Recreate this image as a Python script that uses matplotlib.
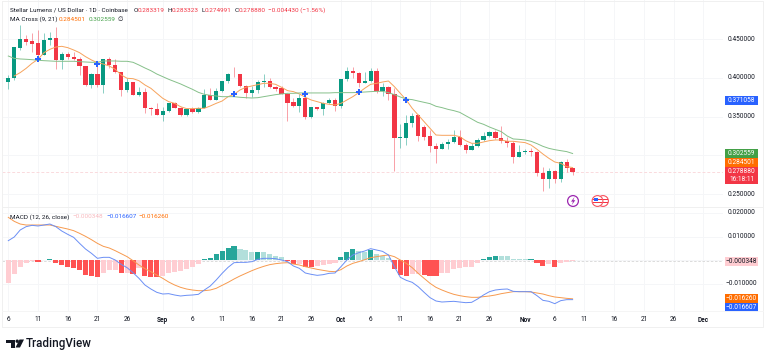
"""
Stellar Lumens daily chart with MA cross and MACD panes.
"""
import matplotlib
matplotlib.use('Agg')
import matplotlib.pyplot as plt
import matplotlib.dates as mdates
from matplotlib.patches import Circle, Polygon, Rectangle
import numpy as np
import pandas as pd

plt.rcParams['font.family'] = ['Roboto', 'DejaVu Sans']

dates = pd.date_range('2025-08-06', periods=96, freq='D')

opens = [.3952,.4003,.4390,.4497,.4471,.4446,.4295,.4489,.4519,.4231,.4308,.4269,.4244,.4149,.3904,.4046,
         .3904,.4244,.4166,.4076,.3840,.3947,.3784,.3823,.3612,.3595,.3526,.3574,.3677,.3617,.3518,.3599,
         .3561,.3617,.3775,.3720,.3831,.3956,.4050,.4046,.3896,.3801,.3844,.3952,.3960,.3883,.3866,.3797,
         .3685,.3642,.3741,.3501,.3621,.3604,.3672,.3715,.3642,.3986,.4085,.4063,.3934,.3960,.4085,.3836,
         .3887,.3793,.3230,.3230,.3415,.3518,.3372,.3251,.3123,.3084,.3144,.3178,.3243,.3135,.3075,.3118,
         .3196,.3251,.3303,.3221,.3187,.3161,.2981,.3050,.3054,.3045,.2779,.2697,.2805,.2697,.2916,.283319]
highs = [.4038,.4403,.4682,.4553,.4574,.4617,.4574,.4587,.4660,.4338,.4338,.4338,.4274,.4153,.4059,.4188,
         .4244,.4274,.4239,.4080,.3995,.3952,.3887,.3866,.3621,.3672,.3629,.3681,.3694,.3621,.3608,.3621,
         .3625,.3853,.3866,.3866,.3964,.4059,.4145,.4050,.3909,.3896,.3973,.4050,.3995,.3896,.3896,.3801,
         .3737,.3788,.3823,.3629,.3629,.3694,.3737,.3745,.3986,.4136,.4145,.4080,.4080,.4123,.4123,.3930,
         .3896,.3866,.3406,.3522,.3544,.3531,.3393,.3329,.3157,.3178,.3208,.3329,.3329,.3157,.3157,.3221,
         .3307,.3320,.3329,.3380,.3243,.3191,.3135,.3084,.3092,.3062,.2848,.2835,.2813,.2929,.2955,.283323]
lows = [.3853,.3973,.4360,.4424,.4330,.4231,.4295,.4424,.4111,.4115,.4239,.4231,.4038,.3900,.3874,.3879,
        .3810,.4123,.4059,.3771,.3823,.3780,.3771,.3544,.3522,.3522,.3449,.3565,.3612,.3509,.3509,.3544,
        .3552,.3608,.3715,.3715,.3814,.3930,.4007,.3879,.3737,.3750,.3810,.3887,.3874,.3836,.3788,.3449,
        .3621,.3565,.3475,.3479,.3586,.3522,.3660,.3578,.3617,.3960,.3995,.3879,.3930,.3952,.3801,.3771,
        .3715,.2805,.3092,.3135,.3363,.3191,.3200,.3050,.2899,.3080,.3080,.3166,.3127,.3028,.3071,.3110,
        .3183,.3243,.3208,.3157,.3114,.2899,.2977,.3019,.2994,.2736,.2538,.2581,.2650,.2663,.2792,.274991]
closes = [.4003,.4394,.4497,.4467,.4437,.4295,.4489,.4519,.4231,.4308,.4265,.4244,.4149,.3904,.4046,.3904,
          .4244,.4166,.4076,.3840,.3947,.3784,.3823,.3612,.3595,.3526,.3574,.3677,.3617,.3518,.3599,.3561,
          .3617,.3775,.3720,.3831,.3956,.4050,.4046,.3896,.3801,.3844,.3943,.3960,.3883,.3857,.3797,.3681,
          .3642,.3741,.3501,.3621,.3604,.3672,.3715,.3642,.3986,.4085,.4059,.3930,.3960,.4085,.3836,.3887,
          .3793,.3230,.3234,.3419,.3513,.3251,.3243,.3123,.3084,.3148,.3178,.3243,.3140,.3075,.3118,.3196,
          .3251,.3303,.3221,.3183,.3161,.2981,.3045,.3054,.3045,.2779,.2697,.2805,.2697,.2916,.2839,.278880]

ma9_days = dates[1:]
ma9 = [.4025,.4068,.4123,.4188,.4239,.4325,.4368,.4398,.4407,.4390,.4360,.4325,.4274,.4231,.4196,.4179,
       .4153,.4111,.4038,.3995,.3990,.3964,.3909,.3866,.3801,.3737,.3694,.3672,.3629,.3604,.3604,.3608,
       .3608,.3638,.3672,.3702,.3758,.3788,.3844,.3879,.3896,.3913,.3930,.3930,.3917,.3879,.3836,.3823,
       .3793,.3750,.3715,.3694,.3672,.3660,.3651,.3672,.3715,.3758,.3810,.3866,.3917,.3930,.3947,.3960,
       .3887,.3801,.3715,.3608,.3522,.3436,.3350,.3264,.3260,.3260,.3260,.3243,.3191,.3157,.3157,.3174,
       .3191,.3200,.3200,.3183,.3183,.3174,.3166,.3135,.3080,.3019,.2964,.2916,.2899,.2856,.284501]
ma21 = [.4282,.4252,.4244,.4240,.4235,.4227,.4222,.4218,.4214,.4214,.4214,.4214,.4209,.4205,.4201,.4201,
        .4218,.4218,.4218,.4214,.4214,.4201,.4166,.4128,.4093,.4050,.4016,.3982,.3952,.3922,.3887,.3853,
        .3814,.3788,.3775,.3767,.3758,.3758,.3758,.3750,.3745,.3741,.3745,.3758,.3771,.3784,.3793,.3801,
        .3801,.3806,.3806,.3806,.3806,.3806,.3806,.3810,.3810,.3810,.3810,.3814,.3818,.3823,.3827,.3827,
        .3810,.3784,.3754,.3728,.3720,.3702,.3685,.3668,.3634,.3617,.3595,.3578,.3556,.3513,.3471,.3428,
        .3402,.3367,.3337,.3307,.3251,.3213,.3208,.3200,.3183,.3153,.3118,.3092,.3075,.3062,.3050,.302559]

cross_days = pd.to_datetime(['2025-08-11', '2025-08-21', '2025-09-13',
                             '2025-09-25', '2025-10-04', '2025-10-12'])
cross_vals = [.4239, .4179, .3788, .3788, .3814, .3715]

macd_hist = [-.00944,-.00592,-.00296,-.00113,-.00028,-.00070,.00028,.00070,-.00113,-.00197,-.00268,-.00324,
             -.00408,-.00634,-.00648,-.00718,-.00521,-.00423,-.00408,-.00535,-.00521,-.00577,-.00338,-.00662,
             -.00690,-.00718,-.00662,-.00549,-.00479,-.00437,-.00366,-.00268,-.00169,.00042,.00113,.00254,
             .00394,.00535,.00620,.00493,.00423,.00338,.00366,.00338,.00254,.00197,.00127,-.00028,
             -.00155,-.00141,-.00282,-.00296,-.00239,-.00197,-.00141,-.00113,.00141,.00352,.00465,.00394,
             .00366,.00437,.00268,.00183,.00085,-.00352,-.00620,-.00648,-.00563,-.00563,-.00606,-.00662,
             -.00676,-.00535,-.00521,-.00380,-.00338,-.00296,-.00268,-.00113,.00042,.00155,.00183,.00169,
             .00169,.00056,.00056,.00056,.00070,-.00099,-.00225,-.00141,-.00282,-.00113,-.00056,-.000348]
macd_line = [.00831,.00986,.01282,.01423,.01479,.01451,.01493,.01535,.01423,.01239,.01099,.00972,
             .00718,.00479,.00296,.00085,.00127,.00127,.00014,-.00169,-.00310,-.00521,-.00761,-.01042,
             -.01211,-.01352,-.01423,-.01408,-.01465,-.01507,-.01479,-.01465,-.01437,-.01254,-.01085,-.00831,
             -.00549,-.00296,-.00099,-.00085,-.00085,-.00056,.00042,.00085,.00085,.00070,.00014,-.00056,
             -.00239,-.00338,-.00535,-.00592,-.00634,-.00606,-.00549,-.00535,-.00268,.00014,.00225,.00324,
             .00394,.00493,.00437,.00380,.00225,-.00268,-.00718,-.00845,-.00930,-.01113,-.01352,-.01577,
             -.01718,-.01761,-.01746,-.01732,-.01761,-.01789,-.01775,-.01634,-.01465,-.01324,-.01254,-.01225,
             -.01211,-.01310,-.01324,-.01324,-.01324,-.01493,-.01690,-.01732,-.01831,-.01704,-.01662,-.016607]
signal_line = [.01817,.01648,.01535,.01493,.01493,.01493,.01493,.01493,.01437,.01380,.01324,.01254,
               .01141,.01014,.00873,.00718,.00592,.00521,.00408,.00282,.00155,-.00014,-.00197,-.00352,
               -.00479,-.00620,-.00761,-.00916,-.01042,-.01141,-.01211,-.01254,-.01282,-.01282,-.01254,-.01183,
               -.01056,-.00930,-.00789,-.00662,-.00549,-.00437,-.00338,-.00254,-.00183,-.00141,-.00113,-.00099,
               -.00155,-.00197,-.00268,-.00324,-.00380,-.00423,-.00465,-.00479,-.00394,-.00239,-.00127,-.00056,
               .00028,.00113,.00155,.00197,.00225,.00155,.00014,-.00127,-.00310,-.00549,-.00761,-.00972,
               -.01141,-.01254,-.01352,-.01437,-.01493,-.01535,-.01563,-.01563,-.01535,-.01507,-.01465,-.01408,
               -.01366,-.01324,-.01324,-.01324,-.01338,-.01380,-.01423,-.01493,-.01549,-.01577,-.01606,-.016260]

tick_dates = pd.to_datetime(['2025-08-06','2025-08-11','2025-08-16','2025-08-21','2025-08-26','2025-09-01',
                             '2025-09-06','2025-09-11','2025-09-16','2025-09-21','2025-09-26','2025-10-01',
                             '2025-10-06','2025-10-11','2025-10-16','2025-10-21','2025-10-26','2025-11-01',
                             '2025-11-06','2025-11-11','2025-11-16','2025-11-21','2025-11-26','2025-12-01'])
tick_labels = ['6','11','16','21','26','Sep','6','11','16','21','26','Oct',
               '6','11','16','21','26','Nov','6','11','16','21','26','Dec']
price_ticks = [0.25, 0.30, 0.35, 0.40, 0.45]
price_labels = ['0.250000', '', '0.350000', '0.400000', '0.450000']
macd_ticks = [-0.01, 0.0, 0.01, 0.02]
macd_labels = ['\u22120.010000', '', '0.010000', '0.020000']

W, H = 768, 359
UP, DOWN = '#089981', '#f23645'
GRID = '#f5f6f8'
BLUE, ORANGE, GREEN = '#2962ff', '#ff6d00', '#43a047'
FS = 4.7
LEG = 4.6


def pane(top, bottom):
    ax = fig.add_axes([2/W, 1 - bottom/H, 721/W, (bottom - top)/H])
    ax.set_xlim(x0 - 6.3/5.94, x0 + (723 - 8.3)/5.94)
    ax.set_xticks(mdates.date2num(tick_dates))
    ax.grid(color=GRID, linewidth=0.7)
    ax.set_axisbelow(True)
    ax.tick_params(length=0, labelbottom=False, labelleft=False)
    for s in ax.spines.values():
        s.set_visible(False)
    return ax


fig = plt.figure(figsize=(W/100, H/100), dpi=100)
x = mdates.date2num(dates)
x0 = x[0]

# price pane
ax = pane(0, 207)
ax.set_ylim(0.2336, 0.5004)
ax.set_yticks(price_ticks)
o, hi, lo, c = map(np.array, (opens, highs, lows, closes))
colors = np.where(c >= o, UP, DOWN)
ax.vlines(x, lo, hi, colors=colors, linewidth=0.6, alpha=0.55, zorder=2)
body = np.maximum(np.abs(c - o), 0.0006)
ax.bar(x, body, bottom=np.minimum(o, c), width=0.72, color=colors, linewidth=0, zorder=3)
ax.plot(mdates.date2num(ma9_days), ma9, color='#f7a35c', linewidth=0.7, zorder=4)
ax.plot(x, ma21, color='#86c08a', linewidth=0.7, zorder=4)
ax.plot(mdates.date2num(cross_days), cross_vals, linestyle='none', marker='P', markersize=4.4,
        color=BLUE, markeredgewidth=0, zorder=5)
ax.axhline(closes[-1], color='#fadadd', linewidth=0.7, linestyle=(0, (3, 2)), zorder=1)

# macd pane
ax2 = pane(207, 311)
ax2.set_ylim(-0.02141, 0.02254)
ax2.set_yticks(macd_ticks)
hist = np.array(macd_hist)
prev = np.r_[hist[0], hist[:-1]]
hist_colors = []
for v, p in zip(hist, prev):
    if v >= 0:
        hist_colors.append('#26a69a' if v > p else '#b2dfdb')
    else:
        hist_colors.append('#ff5252' if v < p else '#ffcdd2')
hist_colors[0] = '#ffcdd2'
ax2.bar(x, hist, width=0.86, color=hist_colors, linewidth=0, zorder=2)
ax2.plot(x, signal_line, color='#f79a4e', linewidth=0.7, zorder=3)
ax2.plot(x, macd_line, color='#6b8ff5', linewidth=0.7, zorder=4)
ax2.axhline(macd_hist[-1], color='#d6d6d6', linewidth=0.6, linestyle=(0, (3, 2)), zorder=1)

# everything around the panes is placed in pixels
ov = fig.add_axes([0, 0, 1, 1], facecolor='none')
ov.set_xlim(0, W)
ov.set_ylim(H, 0)
ov.axis('off')
ov.plot([2, 763, 763, 2, 2], [0.5, 0.5, 327, 327, 0.5], color='#f0f0f0', linewidth=0.7)
ov.plot([2, 763], [207, 207], color='#f0f0f0', linewidth=0.7)
ov.plot([2, 763], [311, 311], color='#f5f5f5', linewidth=0.7)

for d, lab in zip(tick_dates, tick_labels):
    px = 8.3 + (mdates.date2num(d) - x0)*5.94
    bold = not lab.isdigit()
    ov.text(px, 319.5, lab, ha='center', va='center', fontsize=FS, color='#131722',
            fontweight='bold' if bold else 'normal')

price_y = lambda p: 194.3 - (p - 0.25)*776
macd_y = lambda v: 260.3 - v*2367
for p, lab in zip(price_ticks, price_labels):
    ov.text(741.5, price_y(p), lab, ha='center', va='center', fontsize=FS, color='#131722')
for v, lab in zip(macd_ticks, macd_labels):
    ov.text(741.5, macd_y(v), lab, ha='center', va='center', fontsize=FS, color='#131722')


def tag(yc, label, face, txt='white', h=8.8):
    ov.add_patch(Rectangle((725, yc - h/2), 33, h, facecolor=face, linewidth=0))
    ov.text(741.5, yc, label, ha='center', va='center', fontsize=FS, color=txt)


tag(100.3, '0.371058', BLUE)
tag(153.5, '0.302559', GREEN)
tag(162.8, '0.284501', ORANGE)
ov.add_patch(Rectangle((725, 167), 33, 17, facecolor=DOWN, linewidth=0))
ov.text(741.5, 171.5, '0.278880', ha='center', va='center', fontsize=FS, color='white')
ov.text(741.5, 179.5, '16:18:11', ha='center', va='center', fontsize=FS, color='white')
tag(261.2, '\u22120.000348', '#ffcdd2', '#131722')
tag(298.7, '\u22120.016260', ORANGE)
tag(307.5, '\u22120.016607', BLUE)

# legends
ov.text(10, 10.3, 'Stellar Lumens / US Dollar \u00b7 1D \u00b7 Coinbase', va='center', fontsize=LEG, color='#131722')
for px, key, val in [(134, 'O', '0.283319'), (168, 'H', '0.283323'), (201, 'L', '0.274991'), (235, 'C', '0.278880')]:
    ov.text(px, 10.3, key, va='center', fontsize=LEG, color='#131722')
    ov.text(px + 4, 10.3, val, va='center', fontsize=LEG, color=DOWN)
ov.text(268, 10.3, '\u22120.004430 (\u22121.56%)', va='center', fontsize=LEG, color=DOWN)
ov.text(10, 19.5, 'MA Cross (9, 21)', va='center', fontsize=LEG, color='#131722')
ov.text(59, 19.5, '0.284501', va='center', fontsize=LEG, color=ORANGE)
ov.text(89, 19.5, '0.302559', va='center', fontsize=LEG, color=GREEN)
ov.text(118, 19.5, '\u2205', va='center', fontsize=LEG, color='#131722')
ov.text(10, 217, 'MACD (12, 26, close)', va='center', fontsize=LEG, color='#131722')
ov.text(72, 217, '\u22120.000348', va='center', fontsize=LEG, color='#f8b9bf')
ov.text(106, 217, '\u22120.016607', va='center', fontsize=LEG, color=BLUE)
ov.text(138, 217, '\u22120.016260', va='center', fontsize=LEG, color=ORANGE)

# event icons
ov.add_patch(Circle((573, 201), 5.4, facecolor='white', edgecolor='#9c27b0', linewidth=0.9))
ov.add_patch(Polygon([(574.5, 197), (571, 201.6), (573, 201.6), (571.8, 205), (575.3, 200.2), (573.3, 200.2)],
                     facecolor='#9c27b0', linewidth=0))
for cx in [603, 597.5]:
    ov.add_patch(Circle((cx, 201), 5.4, facecolor='white', edgecolor='#f7525f', linewidth=0.8))
    ov.add_patch(Rectangle((cx - 4.5, 198.5), 9, 1.6, facecolor='#f23645', linewidth=0))
    ov.add_patch(Rectangle((cx - 4.5, 201.8), 9, 1.6, facecolor='#f23645', linewidth=0))
ov.add_patch(Rectangle((593.5, 197.5), 4, 3, facecolor='#2962ff', linewidth=0))

# tradingview logo
ov.add_patch(Polygon([(6, 339.5), (15, 339.5), (15, 347.5), (11, 347.5), (11, 343), (6, 343)],
                     facecolor='#131722', linewidth=0))
ov.add_patch(Circle((17.2, 341.2), 1.7, facecolor='#131722', linewidth=0))
ov.add_patch(Polygon([(19.5, 339.5), (24, 339.5), (20, 347.5), (15.5, 347.5)], facecolor='#131722', linewidth=0))
ov.text(26, 343.5, 'TradingView', va='center', fontsize=8.4, color='#131722', fontweight='medium')

fig.savefig('out.png', dpi=100)
